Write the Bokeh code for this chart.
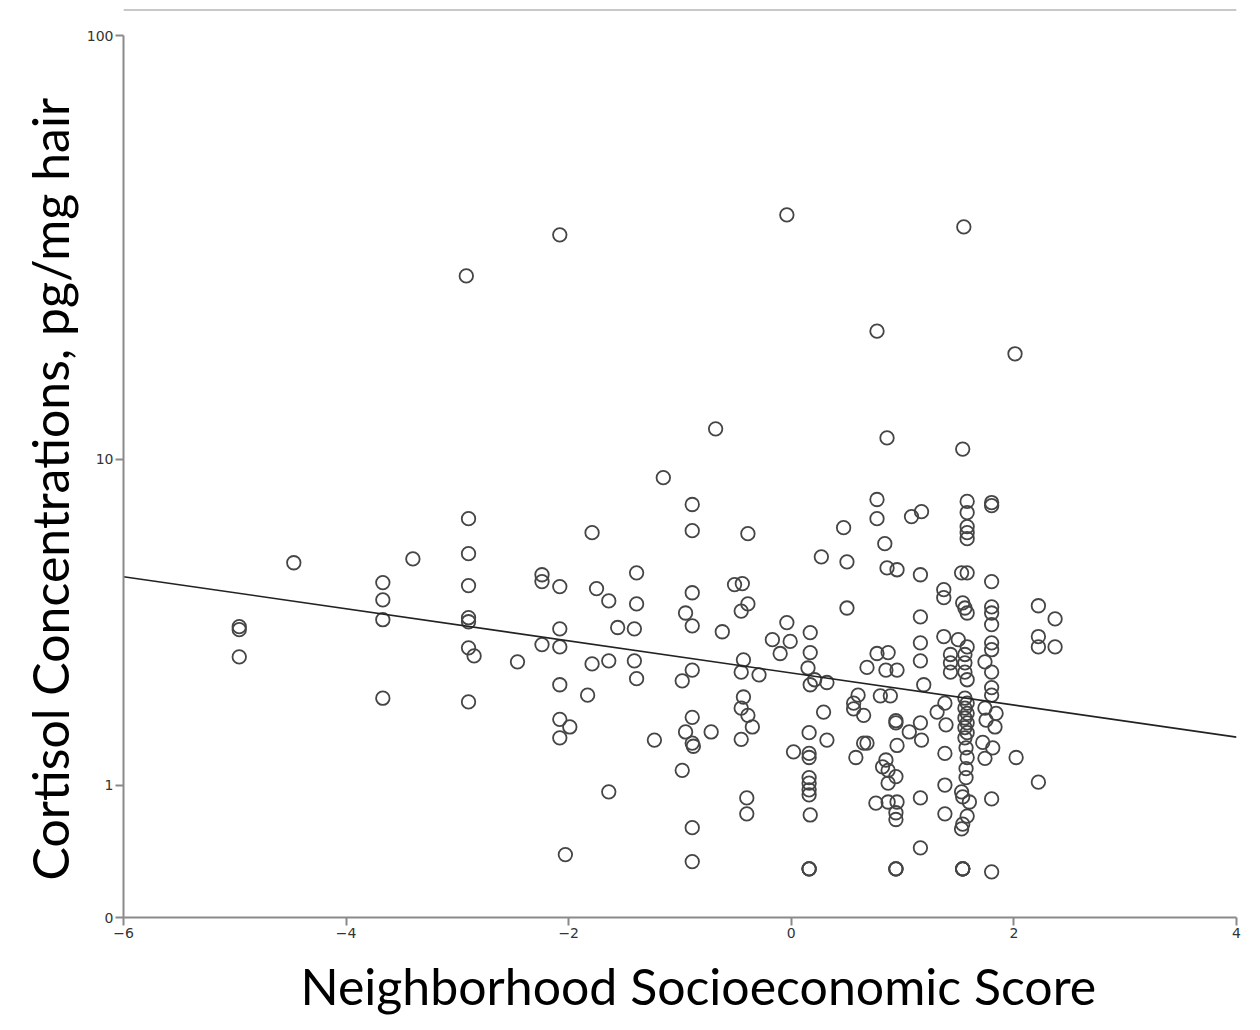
import numpy as np
from bokeh.plotting import figure
from bokeh.models import Range1d, FixedTicker, Span, ColumnDataSource, Title
from bokeh.embed import file_html
from bokeh.resources import INLINE

# ---- data ----
SES_SCORE = [
    -4.96, -4.96, -4.96, -4.47, -3.67, -3.67, -3.67, -3.67, -3.40, -2.90,
    -2.90, -2.90, -2.90, -2.90, -2.90, -2.85, -2.90, -2.46, -2.92, -1.15,
    -0.89, -0.89, -1.79, -0.39, -2.24, -2.24, -2.08, -1.75, -1.39, -1.64,
    -1.39, -0.89, -0.51, -0.44, -0.39, -0.45, -0.95, -0.89, -0.62, -0.04,
    -0.17, -0.10, -0.01, -2.08, -2.24, -2.08, -1.56, -1.41, -1.79, -1.64,
    -1.41, -1.39, -2.08, -1.83, -0.89, -0.98, -0.43, -0.45, -0.29, -0.43,
    -0.45, -0.39, -0.35, -0.45, -2.08, -1.99, -2.08, -1.23, -0.89, -0.95,
    -0.89, -0.88, -0.72, -0.98, -1.64, -0.40, -0.40, -0.89, -2.03, -0.89,
    -2.08, -0.04, -0.68, 0.77, 0.77, 1.17, 1.08, 0.47, 0.84, 0.27,
    0.50, 0.86, 0.95, 1.16, 1.37, 1.37, 0.50, 1.16, 0.17, 0.17,
    1.37, 1.16, 1.16, 0.77, 0.87, 0.68, 0.85, 0.95, 0.15, 1.55,
    0.77, 2.01, 0.86, 1.54, 0.17, 0.21, 0.32, 1.19, 0.60, 0.80,
    0.89, 0.56, 0.56, 0.65, 0.29, 1.38, 1.31, 1.39, 0.94, 0.94,
    1.16, 1.06, 1.17, 0.16, 0.32, 0.02, 0.16, 0.16, 0.65, 0.68,
    0.58, 0.95, 1.38, 0.85, 0.82, 0.87, 0.94, 0.87, 0.16, 0.16,
    0.16, 0.16, 0.17, 0.76, 0.87, 0.95, 0.94, 0.94, 1.16, 1.38,
    1.38, 1.16, 0.16, 0.16, 0.16, 0.94, 0.94, 0.94, 1.58, 1.58,
    1.58, 1.58, 1.58, 1.80, 1.80, 1.53, 1.58, 1.80, 1.54, 1.56,
    1.58, 1.80, 1.80, 1.80, 1.80, 1.80, 2.22, 2.37, 2.22, 2.22,
    2.37, 1.50, 1.58, 1.43, 1.43, 1.43, 1.56, 1.56, 1.56, 1.74,
    1.80, 1.58, 1.80, 1.80, 1.56, 1.58, 1.56, 1.58, 1.56, 1.58,
    1.56, 1.58, 1.56, 1.74, 1.84, 1.75, 1.83, 1.57, 1.58, 1.72,
    1.81, 1.74, 2.02, 1.57, 1.57, 1.53, 1.54, 1.60, 1.80, 2.22,
    1.58, 1.54, 1.53, 1.54, 1.54, 1.54, 1.54, 1.80,
]
CORTISOL = [
    3.58, 3.51, 2.91, 5.40, 4.77, 4.27, 3.75, 2.15, 5.53, 7.06,
    5.71, 4.68, 3.80, 3.70, 3.10, 2.93, 2.09, 2.81, 27.7, 8.99,
    7.68, 6.57, 6.49, 6.45, 5.01, 4.80, 4.65, 4.59, 5.07, 4.24,
    4.16, 4.47, 4.71, 4.74, 4.16, 3.97, 3.92, 3.60, 3.46, 3.68,
    3.28, 2.98, 3.24, 3.53, 3.17, 3.12, 3.56, 3.53, 2.77, 2.83,
    2.83, 2.49, 2.38, 2.20, 2.65, 2.45, 2.85, 2.61, 2.56, 2.17,
    1.99, 1.88, 1.71, 1.54, 1.82, 1.71, 1.56, 1.53, 1.85, 1.64,
    1.49, 1.45, 1.64, 1.16, 0.93, 0.87, 0.72, 0.60, 0.39, 0.34,
    34.6, 38.5, 11.9, 7.91, 7.06, 7.36, 7.15, 6.69, 6.07, 5.60,
    5.43, 5.23, 5.17, 5.01, 4.56, 4.33, 4.05, 3.82, 3.44, 3.00,
    3.35, 3.21, 2.83, 2.98, 3.00, 2.70, 2.65, 2.65, 2.69, 36.1,
    20.5, 18.1, 11.3, 10.6, 2.38, 2.47, 2.42, 2.38, 2.20, 2.19,
    2.19, 2.07, 1.98, 1.88, 1.93, 2.07, 1.93, 1.74, 1.80, 1.77,
    1.77, 1.64, 1.53, 1.63, 1.53, 1.38, 1.36, 1.31, 1.49, 1.49,
    1.31, 1.46, 1.36, 1.28, 1.20, 1.16, 1.09, 1.02, 1.08, 1.02,
    0.95, 0.90, 0.71, 0.82, 0.83, 0.83, 0.73, 0.67, 0.87, 1.00,
    0.72, 0.44, 0.29, 0.29, 0.29, 0.29, 0.29, 0.29, 7.82, 7.32,
    6.73, 6.49, 6.26, 7.77, 7.63, 5.07, 5.07, 4.80, 4.19, 4.05,
    3.92, 4.08, 3.92, 3.63, 3.21, 3.06, 4.11, 3.77, 3.35, 3.12,
    3.12, 3.28, 3.12, 2.96, 2.79, 2.61, 2.96, 2.79, 2.61, 2.81,
    2.61, 2.47, 2.33, 2.20, 2.15, 2.07, 1.99, 1.91, 1.84, 1.77,
    1.70, 1.63, 1.56, 1.99, 1.91, 1.81, 1.71, 1.43, 1.31, 1.50,
    1.43, 1.30, 1.31, 1.18, 1.08, 0.93, 0.88, 0.83, 0.86, 1.03,
    0.70, 0.63, 0.59, 0.29, 0.29, 0.29, 0.29, 0.27,
]
FIT_SES = [-6.0, 4.0]
FIT_CORTISOL = [4.95, 1.57]

X_TICKS = [-6, -4, -2, 0, 2, 4]
Y_TICK_VALUES = [0, 1, 10, 100]
Y_TICK_LABELS = ["0", "1", "10", "100"]

X_TITLE = "Neighborhood Socioeconomic Score"
Y_TITLE = "Cortisol Concentrations, pg/mg hair"


def tr(v):
    """Axis transform used by the chart: log10(value + 1)."""
    return np.log10(np.asarray(v, dtype=float) + 1.0)


y_top_value = float(tr(Y_TICK_VALUES[-1]))   # axis ends at 100
px_per_unit = 882.0 / y_top_value
y_end = 909.0 / px_per_unit                  # frame extends up to the top rule

p = figure(
    width=1250, height=1030,
    x_range=Range1d(-6, 4), y_range=Range1d(0, y_end),
    output_backend="svg", toolbar_location=None,
    min_border_left=123, min_border_right=14,
    min_border_top=8, min_border_bottom=113,
)
p.background_fill_color = "white"
p.border_fill_color = "white"
p.outline_line_color = None
p.grid.visible = False

# top rule
p.add_layout(Span(location=y_end - 1.5 / px_per_unit, dimension="width",
                  line_color="#c8c8c8", line_width=2))

src = ColumnDataSource(dict(x=SES_SCORE, y=tr(CORTISOL)))
p.scatter("x", "y", source=src, marker="circle", size=13.5,
          fill_color=None, line_color="#454545", line_width=1.8)

p.line(FIT_SES, tr(FIT_CORTISOL), line_color="#222222", line_width=1.6)

# axes
for ax in (p.xaxis[0], p.yaxis[0]):
    ax.axis_line_color = "#8a8a8a"
    ax.axis_line_width = 2
    ax.major_tick_line_color = "#8a8a8a"
    ax.major_tick_line_width = 2
    ax.major_tick_in = 0
    ax.major_tick_out = 8
    ax.minor_tick_line_color = None
    ax.major_label_text_font = "DejaVu Sans"
    ax.major_label_text_font_size = "14px"
    ax.major_label_text_color = "#333333"

p.xaxis.ticker = FixedTicker(ticks=X_TICKS)
p.xaxis.major_label_standoff = 2

p.yaxis.ticker = FixedTicker(ticks=list(tr(Y_TICK_VALUES)))
p.yaxis.major_label_overrides = {float(t): s for t, s in zip(tr(Y_TICK_VALUES), Y_TICK_LABELS)}
p.yaxis.bounds = (0, y_top_value)
p.yaxis.major_label_standoff = 2

# axis titles as side titles so they can be positioned like the reference
p.add_layout(Title(text=X_TITLE, align="left", offset=177,
                   text_font="Lato", text_font_size="50px",
                   text_font_style="normal", text_color="black",
                   standoff=27), "below")
p.add_layout(Title(text=Y_TITLE, align="left", offset=37,
                   text_font="Lato", text_font_size="50px",
                   text_font_style="normal", text_color="black",
                   standoff=8), "left")

open("out.html", "w").write(file_html(p, INLINE))
